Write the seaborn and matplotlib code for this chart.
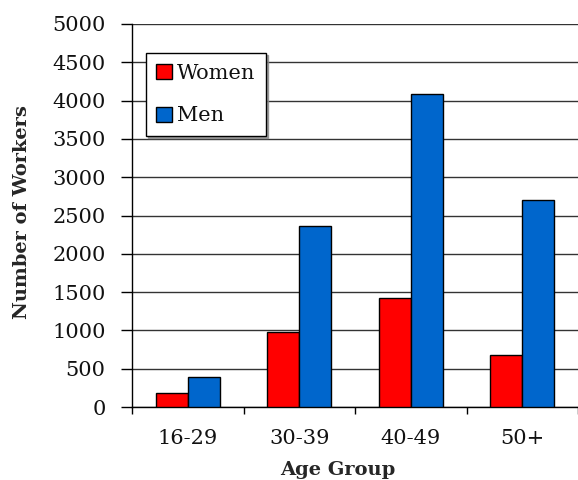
import matplotlib
matplotlib.use("Agg")
import matplotlib.pyplot as plt
from matplotlib.ticker import FixedLocator, MultipleLocator
import pandas as pd
import seaborn as sns

age_groups = ["16-29", "30-39", "40-49", "50+"]
women = [180, 975, 1420, 680]
men = [390, 2360, 4080, 2700]
y_ticks = [0, 500, 1000, 1500, 2000, 2500, 3000, 3500, 4000, 4500, 5000]

df = pd.DataFrame({
    "Age Group": age_groups * 2,
    "Workers": women + men,
    "Sex": ["Women"] * len(women) + ["Men"] * len(men),
})

sns.set_theme(style="white")
plt.rcParams["font.family"] = ["DejaVu Serif"]

fig = plt.figure(figsize=(5.78, 4.8), dpi=100)
ax = fig.add_axes([0.2284, 0.152, 0.7716, 0.798])

sns.barplot(
    data=df, x="Age Group", y="Workers", hue="Sex",
    palette={"Women": "#FF0000", "Men": "#0066CC"},
    width=0.575, edgecolor="black", linewidth=1.0,
    saturation=1, ax=ax, zorder=3,
)

ax.set_xlim(-0.5, len(age_groups) - 0.5)
ax.set_ylim(0, 5000)
ax.yaxis.set_major_locator(FixedLocator(y_ticks))
ax.set_yticklabels([str(t) for t in y_ticks], fontsize=15, color="#111111")
ax.grid(axis="y", color="#333333", linewidth=1.0, zorder=0)
ax.set_axisbelow(True)

# category boundaries carry the x ticks, labels sit at the centres
ax.xaxis.set_minor_locator(MultipleLocator(1.0, offset=0.5))
ax.tick_params(axis="x", which="major", length=0, labelsize=15, pad=16, colors="#111111")
ax.tick_params(axis="x", which="minor", length=5, width=1, color="black", direction="out", bottom=True)
ax.tick_params(axis="y", which="major", length=8, width=1, color="black", direction="out", left=True, pad=11)

for side in ("top", "right"):
    ax.spines[side].set_visible(False)
for side in ("left", "bottom"):
    ax.spines[side].set_color("black")
    ax.spines[side].set_linewidth(1.0)

ax.set_xlabel("Age Group", fontsize=14, fontweight="bold")
ax.xaxis.set_label_coords(0.461, -0.14)
ax.set_ylabel("Number of Workers", fontsize=14, fontweight="bold")
ax.yaxis.set_label_coords(-0.226, 0.51)

handles, labels = ax.get_legend_handles_labels()
leg = ax.legend(
    handles, labels, loc="upper left", bbox_to_anchor=(0.031, 0.924),
    fontsize=15, frameon=True, fancybox=False,
    shadow={"ox": 1.5, "oy": -1.5, "color": "#888888", "alpha": 0.8},
    edgecolor="black", framealpha=1, borderpad=0.5, labelspacing=1.15,
    handlelength=0.75, handleheight=0.75, handletextpad=0.25, borderaxespad=0,
)
leg.get_frame().set_linewidth(1.0)
for t in leg.get_texts():
    t.set_color("#111111")

fig.savefig("out.png", dpi=100)
